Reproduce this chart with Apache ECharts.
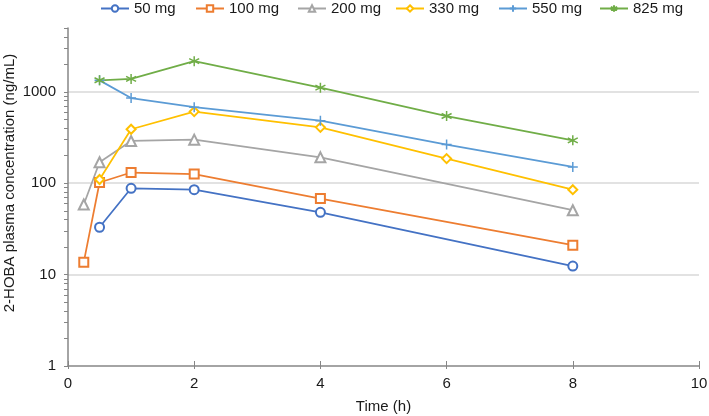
<!DOCTYPE html>
<html>
<head>
<meta charset="utf-8">
<script src="https://cdn.jsdelivr.net/npm/echarts@6/dist/echarts.min.js"></script>
<style>
  html, body { margin: 0; padding: 0; background: #fff; }
  #chart { width: 709px; height: 416px; }
</style>
</head>
<body>
<div id="chart"></div>
<script>
// sampling times (h)
var times = [0.25, 0.5, 1, 2, 4, 6, 8];

// 2-HOBA plasma concentration (ng/mL), null = no sample
var dose50  = [null, 33, 88, 85, 48, null, 12.4];
var dose100 = [13.7, 102, 131, 126, 68, null, 21];
var dose200 = [58.5, 170, 290, 300, 192, null, 50.7];
var dose330 = [null, 110, 390, 608, 409, 186, 85];
var dose550 = [null, 1336, 856, 680, 484, 265, 151];
var dose825 = [null, 1340, 1385, 2170, 1112, 544, 295];

var seriesNames = ['50 mg', '100 mg', '200 mg', '330 mg', '550 mg', '825 mg'];
var seriesColors = ['#4472C4', '#ED7D31', '#A5A5A5', '#FFC000', '#5B9BD5', '#70AD47'];
var seriesSymbols = [
  'emptyCircle', 'emptyRect', 'emptyTriangle', 'emptyDiamond',
  'path://M5,0L5,10M0,5L10,5',
  'path://M5,0L5,10M0.7,2.5L9.3,7.5M0.7,7.5L9.3,2.5'
];
var seriesSizes = [9, 9, 10, 9, 10, 10];

// axis ticks
var yTickValues = [1, 2, 3, 4, 5, 6, 7, 8, 9,
  10, 20, 30, 40, 50, 60, 70, 80, 90,
  100, 200, 300, 400, 500, 600, 700, 800, 900,
  1000, 2000, 3000, 4000, 5000];
var yLabelValues = [1, 10, 100, 1000];

var allData = [dose50, dose100, dose200, dose330, dose550, dose825];

function toPoints(values) {
  var pts = [];
  for (var i = 0; i < times.length; i++) {
    if (values[i] != null) pts.push([times[i], values[i]]);
  }
  return pts;
}

var series = [];
for (var i = 0; i < allData.length; i++) {
  series.push({
    name: seriesNames[i],
    type: 'line',
    data: toPoints(allData[i]),
    symbol: seriesSymbols[i],
    symbolSize: seriesSizes[i],
    showAllSymbol: true,
    lineStyle: { color: seriesColors[i], width: 1.75 },
    itemStyle: {
      color: seriesColors[i],
      borderColor: seriesColors[i],
      borderWidth: 1.5
    },
    emphasis: { disabled: true }
  });
}

var chart = echarts.init(document.getElementById('chart'));

var axisGray = '#868686';
var textColor = '#1a1a1a';
var font = 'Liberation Sans, Arial, sans-serif';

// Excel spaces legend entries in equal slots, so one legend per entry
var legendLeft = [100, 195, 297, 395, 498, 599];
var legends = [];
for (var k = 0; k < seriesNames.length; k++) {
  legends.push({
    left: legendLeft[k],
    top: 1,
    padding: 0,
    itemWidth: 28,
    itemHeight: 8,
    selectedMode: false,
    textStyle: { fontSize: 15, color: textColor, fontFamily: font },
    data: [seriesNames[k]]
  });
}

var option = {
  animation: false,
  textStyle: { fontFamily: font },
  legend: legends,
  grid: { left: 68, right: 10, top: 28, bottom: 50, outerBoundsMode: 'none' },
  xAxis: [{
    type: 'value',
    min: 0,
    max: 10,
    interval: 2,
    name: 'Time (h)',
    nameLocation: 'middle',
    nameGap: 33,
    nameMoveOverlap: false,
    nameTextStyle: { fontSize: 15, color: textColor },
    axisLine: { lineStyle: { color: axisGray, width: 1.5 } },
    axisTick: { inside: true, length: 5, lineStyle: { color: axisGray, width: 1 } },
    axisLabel: { fontSize: 15, color: textColor, margin: 10 },
    splitLine: { show: false }
  }, {
    type: 'value',
    position: 'bottom',
    min: 0,
    max: 10,
    interval: 2,
    axisLine: { show: false },
    axisTick: { length: 3, lineStyle: { color: axisGray, width: 1 } },
    axisLabel: { show: false },
    splitLine: { show: false }
  }],
  yAxis: [{
    type: 'log',
    logBase: 10,
    min: 1,
    max: 5000,
    z: 3,
    name: '2-HOBA plasma concentration (ng/mL)',
    nameLocation: 'middle',
    nameGap: 51,
    nameMoveOverlap: false,
    nameTextStyle: { fontSize: 15, color: textColor, padding: [0, 0, 0, 28] },
    axisLine: { show: true, lineStyle: { color: axisGray, width: 1.5 } },
    axisTick: { show: true, length: 4, customValues: yTickValues, lineStyle: { color: axisGray, width: 1 } },
    axisLabel: {
      fontSize: 15, color: textColor, margin: 12, customValues: yLabelValues,
      formatter: function (v) { return String(v); }
    },
    splitLine: { show: false }
  }, {
    // gridlines only, at the decades
    type: 'log',
    logBase: 10,
    min: 1,
    max: 5000,
    position: 'left',
    z: 1,
    axisLine: { show: false },
    axisTick: { show: false },
    axisLabel: { show: false },
    splitLine: { show: true, showMinLine: false, showMaxLine: false, lineStyle: { color: '#d9d9d9', width: 1.5 } }
  }],
  series: series
};

chart.setOption(option);
</script>
</body>
</html>
